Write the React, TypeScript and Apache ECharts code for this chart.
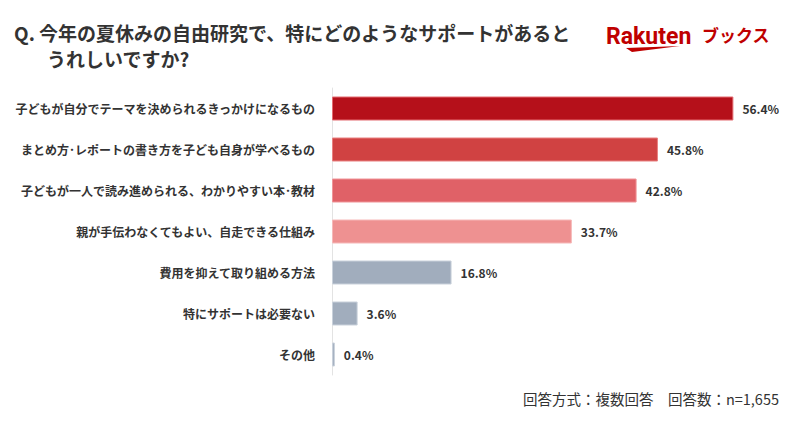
import React, { useEffect, useRef } from "react";
import * as echarts from "echarts";

const categories = [
  "子どもが自分でテーマを決められるきっかけになるもの",
  "まとめ方･レポートの書き方を子ども自身が学べるもの",
  "子どもが一人で読み進められる、わかりやすい本･教材",
  "親が手伝わなくてもよい、自走できる仕組み",
  "費用を抑えて取り組める方法",
  "特にサポートは必要ない",
  "その他",
];
const values = [56.4, 45.8, 42.8, 33.7, 16.8, 3.6, 0.4];
const barColors = ["#B5101A", "#D04242", "#E06167", "#EE9191", "#A1ADBD", "#A1ADBD", "#A1ADBD"];
const borderColors = ["#E46A70", "#E98080", "#F09498", "#F6B8B8", "#C9D1DB", "#C9D1DB", "#C9D1DB"];

const titleLine1 = "Q. 今年の夏休みの自由研究で、特にどのようなサポートがあると";
const titleLine2 = "うれしいですか?";
const footer = "回答方式：複数回答　回答数：n=1,655";

const FONT = "'Noto Sans CJK JP', 'Noto Sans', sans-serif";

export default function App() {
  const ref = useRef<HTMLDivElement>(null);
  useEffect(() => {
    const chart = echarts.init(ref.current!, null, { renderer: "svg" });
    chart.setOption({
      animation: false,
      backgroundColor: "#ffffff",
      textStyle: { fontFamily: FONT },
      grid: { left: 332, right: 41, top: 88, bottom: 51, containLabel: false },
      xAxis: {
        type: "value",
        min: 0,
        max: 60,
        show: false,
      },
      yAxis: {
        type: "category",
        inverse: true,
        data: categories,
        axisLine: { show: true, lineStyle: { color: "#E3E3E3", width: 1 } },
        axisTick: { show: false },
        axisLabel: {
          color: "#333333",
          fontSize: 12,
          fontWeight: "bold",
          fontFamily: FONT,
          margin: 17,
        },
      },
      series: [
        {
          type: "bar",
          barWidth: 24,
          data: values.map((v, i) => ({
            value: v,
            itemStyle: { color: barColors[i], borderColor: borderColors[i], borderWidth: 1 },
          })),
          label: {
            show: true,
            position: "right",
            distance: 9,
            color: "#333333",
            fontSize: 12,
            fontWeight: "bold",
            fontFamily: FONT,
            formatter: (p: any) => `${Number(p.value).toFixed(1)}%`,
          },
        },
      ],
      graphic: [
        {
          type: "text",
          left: 14,
          top: 23,
          style: { text: titleLine1, fontSize: 19, fontWeight: "bold", fill: "#333333", fontFamily: FONT },
        },
        {
          type: "text",
          left: 47,
          top: 49,
          style: { text: titleLine2, fontSize: 19, fontWeight: "bold", fill: "#333333", fontFamily: FONT },
        },
        {
          type: "text",
          left: 606,
          top: 25,
          style: { text: "Rakuten", fontSize: 23, fontWeight: "bold", fill: "#BF0000", fontFamily: "'Roboto', sans-serif", letterSpacing: 0 },
        },
        {
          type: "text",
          left: 702,
          top: 26,
          style: { text: "ブックス", fontSize: 17, fontWeight: "bold", fill: "#BF0000", fontFamily: FONT },
        },
        {
          type: "polygon",
          shape: { points: [[626, 48], [680, 46], [632, 52]] },
          style: { fill: "#BF0000" },
        },
        {
          type: "text",
          right: 21,
          top: 391,
          style: { text: footer, fontSize: 14.5, fill: "#333333", fontFamily: FONT },
        },
      ],
    });
    return () => chart.dispose();
  }, []);
  return <div ref={ref} style={{ width: 800, height: 426, position: "absolute", left: 0, top: 0 }} />;
}
